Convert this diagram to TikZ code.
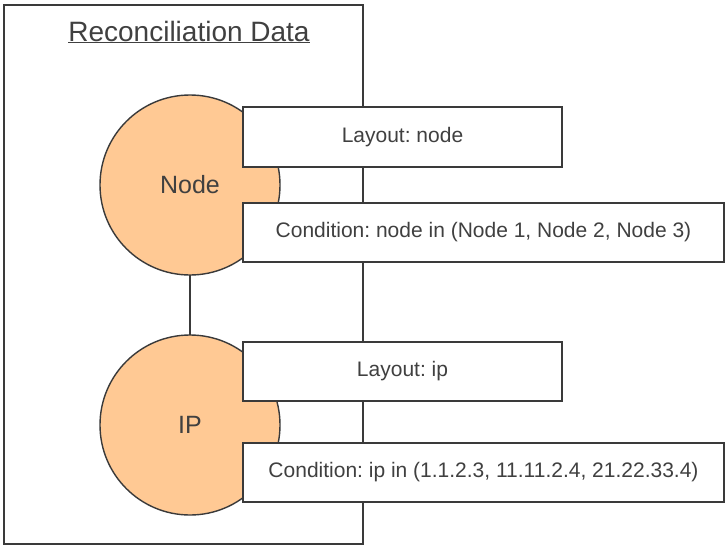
\documentclass[tikz,border=0pt]{standalone}
\usepackage{fontspec}
\setmainfont{Liberation Sans}
\frenchspacing
\definecolor{linec}{HTML}{3A3A3A}
\definecolor{textc}{HTML}{404040}
\definecolor{peach}{HTML}{FFC994}
\begin{document}
\begin{tikzpicture}[x=1pt,y=-1pt,
  every node/.style={inner sep=0pt, outer sep=0pt, text=textc},
  frame/.style={draw=linec, line width=1.4pt, rectangle, fill=white},
  entity/.style={draw=linec, line width=1.4pt, circle, fill=peach, minimum size=180pt, font=\fontsize{25}{30}\selectfont},
  infobox/.style={draw=linec, line width=1.4pt, rectangle, fill=white, font=\fontsize{21}{25}\selectfont},
  link/.style={draw=linec, line width=1.4pt}]
\useasboundingbox (0,0) rectangle (725,546);
\node[frame, minimum width=359pt, minimum height=539pt] (frm) at (183.5,274.5) {};
\node[font=\fontsize{28}{33}\selectfont] (title) at (189,32) {\underline{Reconciliation Data}};
\node[entity] (nd) at (190,185) {Node};
\node[entity] (ip) at (190,425) {IP};
\draw[link] (nd.south) -- (ip.north);
\node[infobox, minimum width=319pt, minimum height=60pt] (ln) at (402.5,137) {Layout: node};
\node[infobox, minimum width=481pt, minimum height=59pt] (cn) at (483.5,232.5) {Condition: node in (Node 1, Node 2, Node 3)};
\node[infobox, minimum width=319pt, minimum height=59pt] (li) at (402.5,371.5) {Layout: ip};
\node[infobox, minimum width=481pt, minimum height=59pt] (ci) at (483.5,472.5) {Condition: ip in (1.1.2.3, 11.11.2.4, 21.22.33.4)};
\end{tikzpicture}
\end{document}
